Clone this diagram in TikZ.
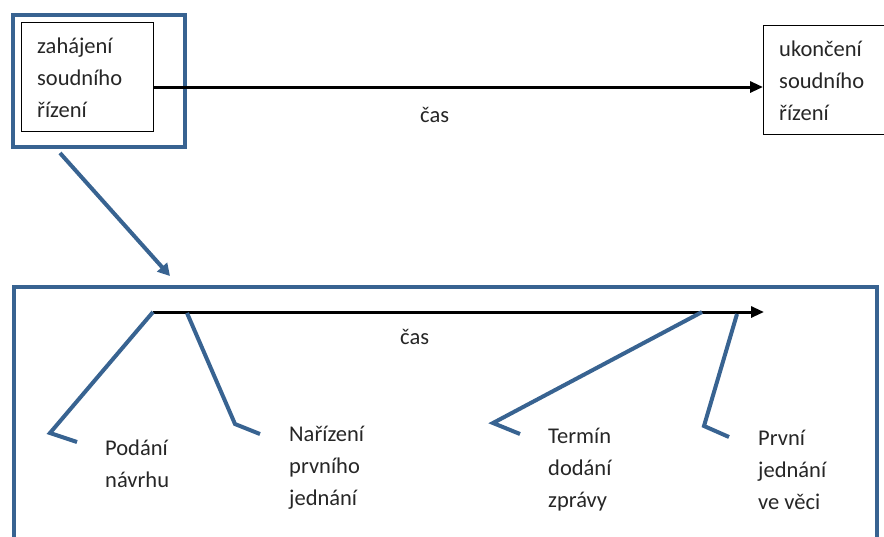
\documentclass[tikz,border=0pt]{standalone}
\usepackage{fontspec}
\setmainfont{Carlito}
\usetikzlibrary{arrows.meta}
\definecolor{bl}{RGB}{56,99,145}
\definecolor{txt}{RGB}{38,38,38}
\begin{document}
\begin{tikzpicture}[x=1pt,y=-1pt,
  bluebox/.style={draw=bl,line width=4pt,inner sep=0pt,anchor=north west},
  thinbox/.style={draw=black,line width=0.9pt,inner sep=0pt,anchor=north west},
  timeline/.style={line width=3pt,-{Triangle[length=13pt,width=11pt]}},
  callout/.style={draw=bl,line width=4pt},
  bluearrow/.style={draw=bl,line width=4pt,-{Triangle[length=12pt,width=13pt]}},
  lbl/.style={anchor=base west,inner sep=0pt,align=left,text=txt,font=\fontsize{22.5}{32}\selectfont}]
\useasboundingbox (0,0) rectangle (884,536);
% top part
\node (outer) [bluebox,minimum width=172pt,minimum height=132pt] at (11,13) {};
\node (start) [thinbox,minimum width=132pt,minimum height=109pt] at (21,22) {};
\node (starttxt) [lbl] at (37,117) {zahájení\\soudního\\řízení};
\node (end) [thinbox,minimum width=160pt,minimum height=109pt] at (763,25) {};
\node (endtxt) [lbl] at (779,120) {ukončení\\soudního\\řízení};
\coordinate (ay) at (0,87);
\draw[timeline] (start.east |- ay) -- (end.west |- ay);
\node (cas1) [lbl] at (420,122) {čas};
% link arrow
\coordinate (la) at (60,153);
\coordinate (lb) at (170,276);
\draw[bluearrow] (la) -- (lb);
% bottom part
\node (detail) [bluebox,minimum width=863pt,minimum height=280pt] at (12,285) {};
\coordinate (t0) at (153,312);
\coordinate (t1) at (764,312);
\draw[timeline] (t0) -- (t1);
\node (cas2) [lbl] at (400,344) {čas};
% callouts
\node (podani) [lbl] at (105,487) {Podání\\návrhu};
\node (narizeni) [lbl] at (289,505) {Nařízení\\prvního\\jednání};
\node (termin) [lbl] at (548,507) {Termín\\dodání\\zprávy};
\node (prvni) [lbl] at (758,509) {První\\jednání\\ve věci};
\coordinate (c1a) at (153,312); \coordinate (c1b) at (50,433); \coordinate (c1c) at (77,442);
\coordinate (c2a) at (187,313); \coordinate (c2b) at (235,424); \coordinate (c2c) at (260,434);
\coordinate (c3a) at (702,312); \coordinate (c3b) at (493,423); \coordinate (c3c) at (520,434);
\coordinate (c4a) at (737,314); \coordinate (c4b) at (704,426); \coordinate (c4c) at (729,437);
\draw[callout] (c1a) -- (c1b) -- (c1c);
\draw[callout] (c2a) -- (c2b) -- (c2c);
\draw[callout] (c3a) -- (c3b) -- (c3c);
\draw[callout] (c4a) -- (c4b) -- (c4c);
\end{tikzpicture}
\end{document}
